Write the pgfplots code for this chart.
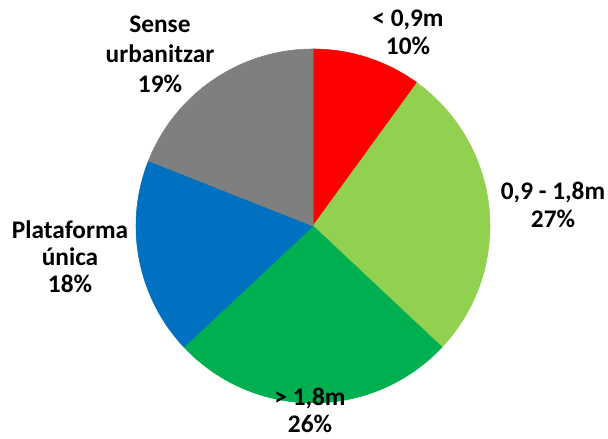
\documentclass[border=0pt]{standalone}
\usepackage{pgfplots}
\pgfplotsset{compat=1.18}
\usepackage{fontspec}
\setmainfont{Carlito}
\definecolor{cRed}{HTML}{FF0000}
\definecolor{cLGreen}{HTML}{92D050}
\definecolor{cGreen}{HTML}{00B050}
\definecolor{cBlue}{HTML}{0070C0}
\definecolor{cGray}{HTML}{7F7F7F}
\begin{document}
\begin{tikzpicture}
% shares (percent), clockwise from top
\def\vA{10}\def\vB{27}\def\vC{26}\def\vD{18}\def\vE{19}
\pgfmathsetmacro{\aA}{90}
\pgfmathsetmacro{\aB}{\aA-3.6*\vA}
\pgfmathsetmacro{\aC}{\aB-3.6*\vB}
\pgfmathsetmacro{\aD}{\aC-3.6*\vC}
\pgfmathsetmacro{\aE}{\aD-3.6*\vD}
\pgfmathsetmacro{\aF}{\aE-3.6*\vE}
\def\cx{313}\def\cy{213}\def\rr{177}
\begin{axis}[
  scale only axis, width=456pt, height=329.25pt,
  xmin=0, xmax=608, ymin=0, ymax=439,
  hide axis, clip=false,
  every axis plot/.append style={samples=80, line join=round},
]
\addplot[fill=cRed, draw=cRed, domain=\aB:\aA] ({\cx+\rr*cos(x)},{\cy+\rr*sin(x)}) -- (axis cs:\cx,\cy) -- cycle;
\addplot[fill=cLGreen, draw=cLGreen, domain=\aC:\aB] ({\cx+\rr*cos(x)},{\cy+\rr*sin(x)}) -- (axis cs:\cx,\cy) -- cycle;
\addplot[fill=cGreen, draw=cGreen, domain=\aD:\aC] ({\cx+\rr*cos(x)},{\cy+\rr*sin(x)}) -- (axis cs:\cx,\cy) -- cycle;
\addplot[fill=cBlue, draw=cBlue, domain=\aE:\aD] ({\cx+\rr*cos(x)},{\cy+\rr*sin(x)}) -- (axis cs:\cx,\cy) -- cycle;
\addplot[fill=cGray, draw=cGray, domain=\aF:\aE] ({\cx+\rr*cos(x)},{\cy+\rr*sin(x)}) -- (axis cs:\cx,\cy) -- cycle;
\begin{scope}[every node/.style={anchor=base, inner sep=0pt, font=\fontsize{19}{21}\selectfont\bfseries}]
\node at (axis cs:408,412) {< 0,9m};
\node at (axis cs:408,384) {10\%};
\node at (axis cs:553,239) {0,9 - 1,8m};
\node at (axis cs:553,211) {27\%};
\node at (axis cs:310,33) {> 1,8m};
\node at (axis cs:310,6) {26\%};
\node at (axis cs:70,200) {Plataforma};
\node at (axis cs:70,173) {única};
\node at (axis cs:70,146) {18\%};
\node at (axis cs:160,406) {Sense};
\node at (axis cs:160,376) {urbanitzar};
\node at (axis cs:160,346) {19\%};
\end{scope}
\end{axis}
\pgfresetboundingbox
\path (current axis.south west) rectangle (current axis.north east);
\end{tikzpicture}
\end{document}
